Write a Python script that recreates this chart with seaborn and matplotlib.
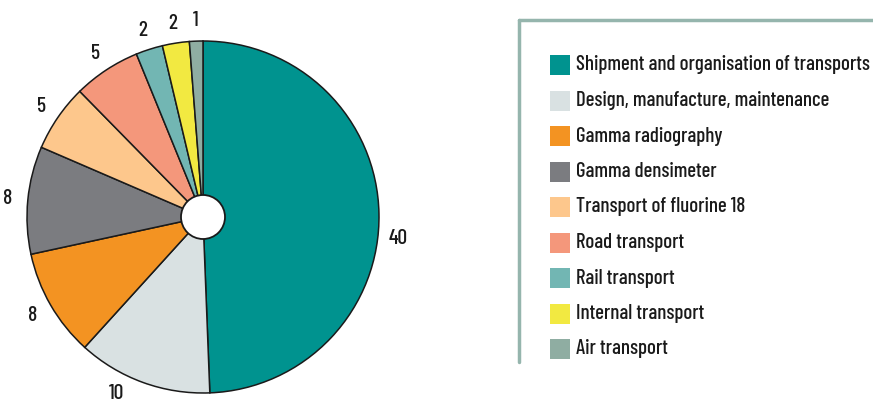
import numpy as np
import matplotlib
matplotlib.use("Agg")
import matplotlib.pyplot as plt
from matplotlib.patches import Circle, Rectangle
from matplotlib.lines import Line2D
import seaborn as sns

categories = [
    "Shipment and organisation of transports",
    "Design, manufacture, maintenance",
    "Gamma radiography",
    "Gamma densimeter",
    "Transport of fluorine 18",
    "Road transport",
    "Rail transport",
    "Internal transport",
    "Air transport",
]
values = [40, 10, 8, 8, 5, 5, 2, 2, 1]
colors = ["#00938f", "#d9e1e2", "#f39322", "#7b7c80", "#fdc78c",
          "#f4977b", "#72b6b3", "#f2e941", "#8fada2"]

sns.set_theme(style="white")
plt.rcParams["font.family"] = ["Barlow Condensed", "Roboto Condensed", "DejaVu Sans"]
plt.rcParams["font.weight"] = "medium"
FS = 15
INK = "#1a1a1a"

W, H = 873, 405
fig = plt.figure(figsize=(W / 100, H / 100), dpi=100)

# pie axes: centre at (203, 217) px, unit radius = 176 px
cx, cy, R = 203, 217, 176
lim = 1.25
half = R * lim
ax = fig.add_axes([(cx - half) / W, (H - cy - half) / H, 2 * half / W, 2 * half / H])

palette = sns.color_palette(colors)
wedges, _ = ax.pie(values, colors=palette, startangle=90, counterclock=False,
                   radius=1.0, wedgeprops=dict(edgecolor=INK, linewidth=1.1))
ax.set_xlim(-lim, lim)
ax.set_ylim(-lim, lim)
ax.set_aspect("equal")
ax.axis("off")

# central hole
ax.add_patch(Circle((0, 0), 0.125, facecolor="white", edgecolor=INK, linewidth=1.3, zorder=5))

# value labels outside each wedge; the two largest wedges' labels sit a little further round
shift = {0: -7.5, 1: -6.0}
for i, (w, v) in enumerate(zip(wedges, values)):
    ang = np.deg2rad((w.theta1 + w.theta2) / 2 + shift.get(i, 0.0))
    r = 1.115
    ax.text(r * np.cos(ang), r * np.sin(ang), str(v), ha="center", va="center",
            fontsize=FS + 0.5, color=INK)

# legend frame: top and left rules
frame_c = "#95b5ad"
fig.add_artist(Line2D([519 / W, 1.0], [(H - 20) / H, (H - 20) / H], color=frame_c, linewidth=2.5))
fig.add_artist(Line2D([519 / W, 519 / W], [(H - 20) / H, (H - 362) / H], color=frame_c, linewidth=2.5))

# legend entries
for i, (lab, col) in enumerate(zip(categories, palette)):
    yc = 65 + i * 35.5
    fig.add_artist(Rectangle((550 / W, (H - yc - 10) / H), 20 / W, 20 / H,
                             facecolor=col, edgecolor="none", transform=fig.transFigure))
    fig.text(576 / W, (H - yc) / H, lab, ha="left", va="center", fontsize=FS, color=INK)

fig.savefig("out.png", dpi=100)
